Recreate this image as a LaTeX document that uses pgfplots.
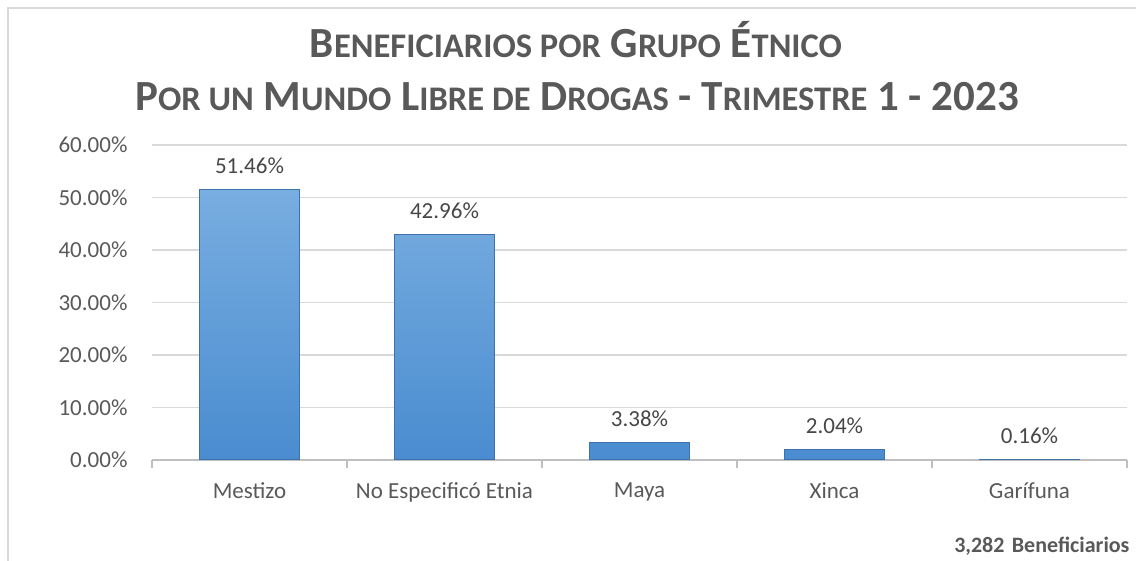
\documentclass[border=0pt]{standalone}
\usepackage{pgfplots}
\pgfplotsset{compat=1.18}
\usepackage{fontspec}
\setmainfont{Carlito}
\definecolor{txt}{HTML}{595959}
\definecolor{gridc}{HTML}{D9D9D9}
\definecolor{axl}{HTML}{BFBFBF}
\definecolor{bartop}{HTML}{78AEE0}
\definecolor{barbot}{HTML}{4A8CD0}
\definecolor{baredge}{HTML}{3D72AC}
\newcommand\SC[1]{{\fontsize{34.5}{34.5}\selectfont #1}}
\begin{document}
\begin{tikzpicture}
\path[use as bounding box] (0pt,0pt) rectangle (1136pt,561pt);
\draw[gridc,line width=1.5pt] (8pt,0pt) -- (8pt,553pt) -- (1136pt,553pt);
\begin{axis}[
  at={(152pt,101pt)}, anchor=south west,
  scale only axis, width=975pt, height=315pt,
  xmin=-0.5, xmax=4.5, ymin=0, ymax=60,
  ybar, bar width=100pt,
  xtick={-0.5,0.5,...,4.5}, xticklabels={},
  extra x ticks={0,1,2,3,4},
  extra x tick labels={Mestizo,No Especificó Etnia,Maya,Xinca,Garífuna},
  extra x tick style={major tick length=0pt, xmajorgrids=false, tick label style={yshift=-19pt}},
  ytick={0,10,...,60},
  yticklabels={0.00\%,10.00\%,20.00\%,30.00\%,40.00\%,50.00\%,60.00\%},
  ymajorgrids, grid style={draw=gridc, line width=1.2pt},
  axis x line*=bottom, axis y line*=left,
  y axis line style={draw=none},
  x axis line style={draw=axl, line width=1.2pt},
  major tick style={draw=axl, line width=1.2pt},
  ytick style={draw=none},
  tick align=outside, major tick length=8pt,
  tick label style={font=\fontsize{23}{23}\selectfont, text=txt},
  yticklabel style={xshift=-13pt},
  /pgf/number format/assume math mode=true,
  nodes near coords={\pgfmathprintnumber[fixed,fixed zerofill,precision=2]{\pgfplotspointmeta}\%},
  nodes near coords style={font=\fontsize{23}{23}\selectfont, text=txt!80!black, yshift=12pt},
  clip=false,
]
\addplot[draw=baredge, line width=1pt, top color=bartop, bottom color=barbot]
 coordinates {(0,51.46) (1,42.96) (2,3.38) (3,2.04) (4,0.16)};
\end{axis}
\node[text=txt, font=\bfseries\fontsize{43}{43}\selectfont] at (576pt,521pt) {B\SC{ENEFICIARIOS POR} G\SC{RUPO} É\SC{TNICO}};
\node[text=txt, font=\bfseries\fontsize{43}{43}\selectfont] at (577pt,464pt) {P\SC{OR UN} M\SC{UNDO} L\SC{IBRE DE} D\SC{ROGAS} - T\SC{RIMESTRE} 1 - 2023};
\node[text=txt, font=\bfseries\fontsize{22}{22}\selectfont, anchor=east] at (1133pt,15pt) {3,282\,\,Beneficiarios};
\end{tikzpicture}
\end{document}
